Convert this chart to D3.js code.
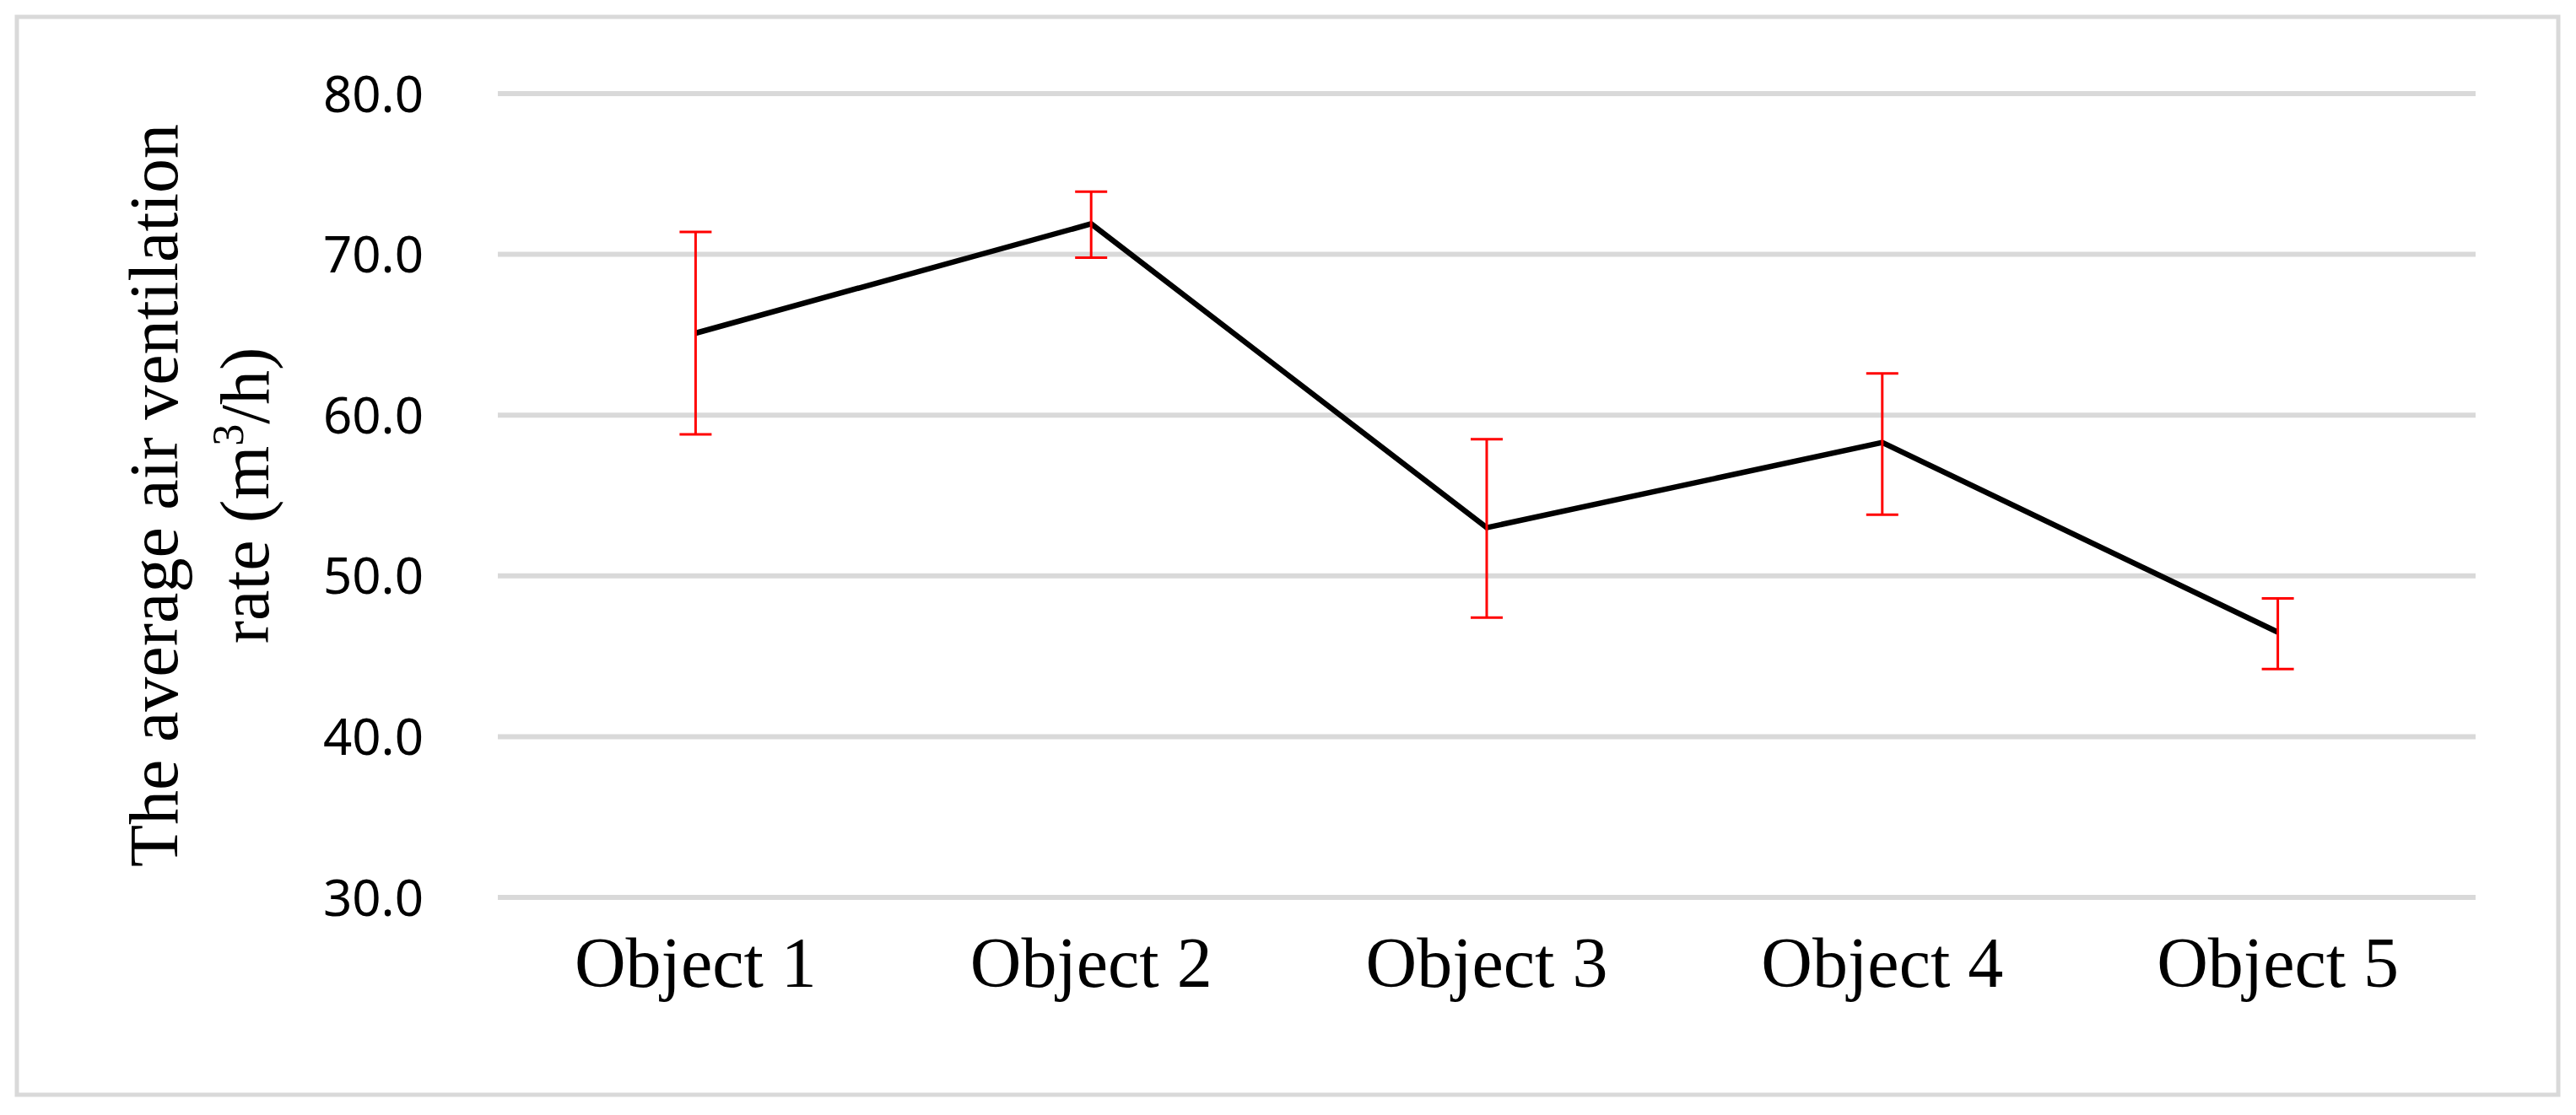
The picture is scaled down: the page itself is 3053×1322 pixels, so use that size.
<!DOCTYPE html>
<html><head><meta charset="utf-8">
<script src="https://cdn.jsdelivr.net/npm/d3@7"></script>
<style>body{margin:0;background:#fff}</style></head>
<body><svg id="c" width="3053" height="1322"></svg>
<script>
const categories = ["Object 1","Object 2","Object 3","Object 4","Object 5"];
const values = [65.1, 71.9, 53.0, 58.3, 46.5];
const errHigh = [71.4, 73.9, 58.5, 62.6, 48.6];
const errLow = [58.8, 69.8, 47.4, 53.8, 44.2];
const yTicks = [30,40,50,60,70,80];

const svg = d3.select("#c");
svg.append("rect").attr("x",20).attr("y",20).attr("width",3012).attr("height",1278)
  .attr("fill","#fff").attr("stroke","#d9d9d9").attr("stroke-width",5);
const L=590,R=2934,T=111,B=1064;
const x = d3.scaleBand().domain(categories).range([L,R]);
const y = d3.scaleLinear().domain([30,80]).range([B,T]);
const cx = c => x(c)+x.bandwidth()/2;

svg.append("g").selectAll("line").data(yTicks).join("line")
  .attr("x1",L).attr("x2",R).attr("y1",d=>y(d)).attr("y2",d=>y(d))
  .attr("stroke","#d9d9d9").attr("stroke-width",6);
svg.append("g").selectAll("text").data(yTicks).join("text")
  .attr("x",502).attr("y",d=>y(d)).attr("dy","0.36em").attr("text-anchor","end")
  .attr("font-family","'Noto Sans', sans-serif").attr("font-size",60).text(d=>d.toFixed(1));
svg.append("g").selectAll("text").data(categories).join("text")
  .attr("x",d=>cx(d)).attr("y",1170).attr("text-anchor","middle")
  .attr("font-family","'Liberation Serif', serif").attr("font-size",84).text(d=>d);

svg.append("path").datum(values)
  .attr("d",d3.line().x((d,i)=>cx(categories[i])).y(d=>y(d)))
  .attr("fill","none").attr("stroke","#000").attr("stroke-width",6.5);

const eb = svg.append("g").attr("stroke","#ff0000").attr("stroke-width",3);
categories.forEach((c,i)=>{
  const X=cx(c);
  eb.append("line").attr("x1",X).attr("x2",X).attr("y1",y(errHigh[i])).attr("y2",y(errLow[i]));
  [errHigh[i],errLow[i]].forEach(v=>eb.append("line").attr("x1",X-19).attr("x2",X+19).attr("y1",y(v)).attr("y2",y(v)));
});

const t = svg.append("text").attr("transform","translate(0,"+((T+B)/2)+") rotate(-90)")
  .attr("text-anchor","middle").attr("font-family","'Liberation Serif', serif").attr("font-size",82);
t.append("tspan").attr("x",0).attr("y",210).text("The average air ventilation");
const t2 = t.append("tspan").attr("x",0).attr("y",318).text("rate (m");
t.append("tspan").attr("font-size",52).attr("dy",-30).text("3");
t.append("tspan").attr("dy",30).text("/h)");
</script></body></html>
